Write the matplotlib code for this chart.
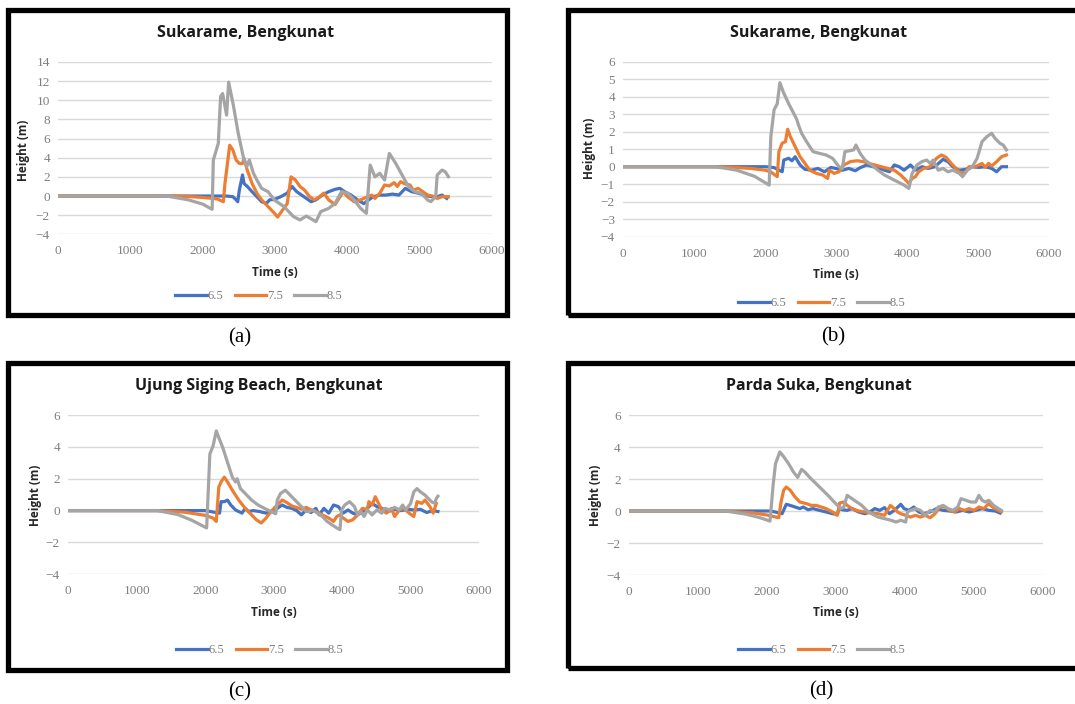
import matplotlib
matplotlib.use("Agg")
import matplotlib.pyplot as plt
from matplotlib.patches import Rectangle
import numpy as np

# series labels (magnitudes) and Excel default colours
labels = ["6.5", "7.5", "8.5"]
colors = ["#4472C4", "#ED7D31", "#A5A5A5"]

titles = ["Sukarame, Bengkunat", "Sukarame, Bengkunat",
          "Ujung Siging Beach, Bengkunat", "Parda Suka, Bengkunat"]
captions = ["(a)", "(b)", "(c)", "(d)"]

# ---- panel (a) ----
ta_65 = [0, 2100, 2329, 2417, 2462, 2484, 2506, 2550, 2572, 2616, 2683, 2749, 2815, 2881, 2926, 2992,
         3080, 3169, 3235, 3301, 3368, 3434, 3500, 3567, 3655, 3743, 3832, 3898, 3964, 4053, 4141,
         4230, 4296, 4362, 4451, 4539, 4627, 4716, 4804, 4892, 4981, 5069, 5158, 5246, 5312, 5378]
ha_65 = [0, 0, 0, -0.07, -0.4, -0.6, 0.6, 2.2, 1.3, 1.0, 0.45, -0.07, -0.6, -0.77, -0.4, -0.35,
         -0.07, 0.3, 1.0, 0.45, 0.1, -0.25, -0.6, -0.4, 0.1, 0.45, 0.7, 0.8, 0.45, 0.1, -0.4,
         -0.8, -0.4, -0.07, 0.1, 0.1, 0.2, 0.1, 0.8, 0.45, 0.3, 0.1, -0.07, -0.07, 0.1, -0.25]
ta_75 = [0, 1500, 1800, 2000, 2200, 2285, 2307, 2373, 2417, 2462, 2506, 2550, 2572, 2616, 2683, 2749,
         2815, 2904, 2992, 3036, 3102, 3169, 3222, 3279, 3346, 3412, 3478, 3544, 3611, 3677, 3743,
         3832, 3898, 3942, 4009, 4097, 4185, 4274, 4340, 4384, 4451, 4517, 4583, 4649, 4694, 4738,
         4804, 4870, 4915, 4981, 5047, 5114, 5180, 5246, 5312, 5400]
ha_75 = [0, 0, -0.05, -0.15, -0.3, -0.6, 1.3, 5.3, 4.8, 3.76, 3.4, 3.4, 3.9, 2.7, 1.3, 0.3,
         -0.4, -1.1, -1.8, -2.2, -1.5, -0.8, 2.0, 1.7, 1.0, 0.6, -0.07, -0.4, -0.1, 0.3, -0.4,
         -0.9, -0.1, 0.45, -0.1, -0.6, -0.4, -0.1, 0.1, -0.25, 0.3, 1.15, 1.05, 1.4, 1.0, 1.5,
         1.25, 1.15, 0.6, 0.8, 0.45, 0.1, 0.0, -0.25, -0.07, -0.07]
ta_85 = [0, 1500, 1800, 2000, 2130, 2146, 2215, 2247, 2275, 2330, 2358, 2423, 2492, 2561, 2608, 2645,
         2700, 2749, 2815, 2904, 2992, 3125, 3257, 3346, 3434, 3567, 3633, 3743, 3832, 3920, 4009,
         4097, 4185, 4265, 4318, 4384, 4451, 4517, 4583, 4672, 4760, 4848, 4937, 5025, 5114, 5158,
         5224, 5246, 5312, 5357, 5400]
ha_85 = [0, 0, -0.4, -0.85, -1.39, 3.76, 5.5, 10.4, 10.7, 8.45, 11.9, 9.5, 6.5, 4.1, 3.06, 3.76,
         2.4, 1.67, 0.8, 0.45, -0.42, -1.11, -2.16, -2.5, -2.09, -2.68, -1.63, -1.29, -0.77, 0.45, 0.28,
         -0.42, -1.29, -1.81, 3.23, 2.0, 2.37, 1.67, 4.45, 3.4, 2.19, 0.97, 0.45, 0.28, -0.42, -0.59,
         -0.07, 2.19, 2.71, 2.54, 2.02]

# ---- panel (b) ----
tb_65 = [0, 2000, 2125, 2239, 2262, 2331, 2377, 2422, 2491, 2560, 2651, 2743, 2835, 2926, 2995, 3087,
         3178, 3270, 3338, 3430, 3522, 3613, 3682, 3751, 3819, 3888, 3957, 4048, 4117, 4209, 4300,
         4392, 4506, 4575, 4644, 4735, 4827, 4919, 5010, 5102, 5193, 5262, 5331, 5400]
hb_65 = [0, 0, -0.05, -0.29, 0.38, 0.48, 0.34, 0.57, 0.1, -0.15, -0.2, -0.1, -0.29, -0.04, -0.1, -0.2,
         -0.1, -0.23, -0.06, 0.1, 0.0, -0.1, -0.2, -0.29, 0.1, 0.0, -0.2, 0.1, -0.2, 0.0, -0.1,
         0.0, 0.42, 0.29, 0.0, -0.2, -0.15, 0.0, -0.04, 0.0, -0.1, -0.29, 0.0, 0.0]
tb_75 = [0, 1400, 1800, 2000, 2079, 2170, 2193, 2239, 2285, 2317, 2354, 2422, 2491, 2560, 2628, 2720,
         2812, 2880, 2903, 2972, 3041, 3109, 3201, 3293, 3384, 3453, 3545, 3636, 3728, 3819, 3911,
         3980, 4025, 4071, 4117, 4163, 4232, 4323, 4415, 4483, 4552, 4621, 4690, 4758, 4827, 4873,
         4964, 5056, 5102, 5148, 5193, 5262, 5331, 5400]
hb_75 = [0, 0, -0.1, -0.2, -0.3, -0.57, 0.86, 1.34, 1.43, 2.14, 1.72, 1.15, 0.57, 0.19, -0.2, -0.38,
         -0.48, -0.67, -0.2, -0.38, -0.29, 0.1, 0.29, 0.34, 0.29, 0.19, 0.1, 0.0, -0.1, -0.2, -0.48,
         -0.76, -0.96, -0.67, -0.57, -0.29, -0.1, 0.0, 0.48, 0.67, 0.53, 0.19, -0.1, -0.38, -0.29, 0.0,
         0.0, 0.19, -0.04, 0.19, 0.04, 0.29, 0.57, 0.67]
tb_85 = [0, 1300, 1600, 1850, 2056, 2079, 2125, 2170, 2207, 2262, 2331, 2400, 2445, 2468, 2514, 2583,
         2674, 2766, 2858, 2949, 3041, 3087, 3123, 3201, 3247, 3279, 3338, 3407, 3499, 3590, 3682,
         3774, 3865, 3957, 4025, 4071, 4140, 4209, 4277, 4323, 4369, 4438, 4506, 4575, 4644, 4735,
         4781, 4850, 4919, 4987, 5056, 5125, 5193, 5239, 5308, 5354, 5400]
hb_85 = [0, 0, -0.2, -0.55, -1.05, 1.7, 3.25, 3.6, 4.8, 4.2, 3.6, 3.06, 2.7, 2.4, 1.9, 1.43,
         0.86, 0.76, 0.67, 0.48, 0.0, -0.1, 0.86, 0.92, 0.96, 1.24, 0.76, 0.38, 0.1, -0.2, -0.48,
         -0.67, -0.86, -1.05, -1.24, -0.38, 0.1, 0.29, 0.38, 0.19, 0.38, -0.2, -0.1, -0.29, -0.2, -0.38,
         -0.57, -0.2, 0.0, 0.48, 1.43, 1.72, 1.91, 1.62, 1.34, 1.24, 0.96]

# ---- panel (c) ----
tc_65 = [0, 2000, 2209, 2232, 2279, 2326, 2373, 2443, 2537, 2584, 2631, 2701, 2795, 2889, 2983, 3053,
         3124, 3194, 3265, 3335, 3405, 3476, 3546, 3617, 3664, 3734, 3805, 3875, 3945, 4016, 4086,
         4156, 4227, 4297, 4368, 4438, 4508, 4579, 4673, 4767, 4860, 4954, 5048, 5142, 5236, 5330, 5400]
hc_65 = [0, 0, -0.16, 0.56, 0.56, 0.66, 0.35, 0.04, -0.16, 0.14, -0.06, 0.0, -0.06, -0.16, -0.06, 0.14,
         0.35, 0.2, 0.14, 0.0, -0.27, 0.04, -0.12, 0.14, -0.27, 0.14, -0.16, 0.35, 0.25, -0.16, 0.04,
         -0.16, -0.27, -0.06, 0.14, 0.45, 0.25, 0.14, -0.06, 0.08, 0.0, 0.08, 0.04, 0.08, -0.12, 0.0, -0.06]
tc_75 = [0, 1300, 1700, 2000, 2115, 2162, 2199, 2232, 2279, 2326, 2396, 2490, 2584, 2678, 2748, 2819,
         2889, 2960, 3053, 3124, 3194, 3265, 3335, 3405, 3476, 3546, 3617, 3711, 3805, 3875, 3922,
         3969, 4016, 4086, 4156, 4227, 4297, 4368, 4391, 4438, 4485, 4532, 4579, 4649, 4720, 4767,
         4837, 4907, 4978, 5048, 5095, 5165, 5212, 5283, 5330, 5376]
hc_75 = [0, 0, -0.1, -0.3, -0.47, -0.68, 1.48, 1.8, 2.1, 1.8, 1.28, 0.66, 0.14, -0.27, -0.58, -0.78,
         -0.47, -0.06, 0.35, 0.66, 0.5, 0.29, 0.2, 0.08, 0.2, 0.04, -0.06, -0.27, -0.47, -0.68, -0.37,
         -0.27, -0.47, -0.68, -0.58, -0.27, 0.14, 0.04, 0.56, 0.35, 0.87, 0.45, 0.04, -0.16, 0.14, -0.37,
         0.04, 0.14, -0.16, -0.37, 0.56, 0.45, 0.66, 0.25, -0.16, 0.45]
tc_85 = [0, 1300, 1600, 1800, 2021, 2068, 2115, 2162, 2209, 2256, 2326, 2396, 2443, 2467, 2514, 2561,
         2608, 2678, 2772, 2866, 2960, 3030, 3053, 3100, 3171, 3241, 3312, 3382, 3429, 3476, 3523,
         3570, 3640, 3711, 3781, 3851, 3922, 3969, 3992, 4039, 4109, 4180, 4227, 4274, 4321, 4368,
         4438, 4508, 4579, 4626, 4696, 4767, 4837, 4884, 4931, 5001, 5048, 5095, 5142, 5212, 5259,
         5306, 5353, 5376, 5400]
hc_85 = [0, 0, -0.25, -0.6, -1.09, 3.55, 4.06, 5.0, 4.47, 3.96, 3.03, 2.1, 1.8, 2.0, 1.38, 1.18,
         0.97, 0.66, 0.35, 0.14, -0.06, -0.2, 0.66, 1.07, 1.28, 0.97, 0.66, 0.35, 0.14, -0.06, -0.06,
         0.04, -0.16, -0.37, -0.68, -0.89, -1.09, -1.2, 0.04, 0.35, 0.56, 0.25, -0.27, -0.06, -0.37, 0.04,
         -0.27, 0.04, -0.16, 0.14, 0.04, 0.2, 0.04, 0.35, 0.04, 0.45, 1.18, 1.38, 1.18, 0.97, 0.76,
         0.56, 0.45, 0.76, 0.9]

# ---- panel (d) ----
td_65 = [0, 2050, 2196, 2220, 2281, 2338, 2408, 2479, 2526, 2597, 2668, 2762, 2857, 2951, 3022, 3046,
         3093, 3164, 3234, 3329, 3423, 3494, 3565, 3636, 3706, 3777, 3848, 3942, 3990, 4060, 4131,
         4202, 4273, 4367, 4462, 4556, 4650, 4745, 4839, 4934, 5028, 5122, 5217, 5311, 5382]
hd_65 = [0, 0, -0.13, -0.17, 0.42, 0.35, 0.25, 0.15, 0.25, 0.08, 0.15, 0.04, -0.06, -0.17, -0.21, 0.15,
         0.08, 0.04, 0.15, -0.06, -0.17, -0.06, 0.15, 0.04, 0.21, -0.17, 0.04, 0.42, 0.15, 0.04, 0.25,
         -0.06, -0.17, -0.06, 0.15, 0.04, 0.0, -0.06, 0.04, -0.06, 0.04, 0.15, 0.04, 0.0, -0.13]
td_75 = [0, 1400, 1800, 2000, 2172, 2205, 2243, 2281, 2338, 2408, 2479, 2574, 2644, 2715, 2786, 2857,
         2951, 3022, 3055, 3116, 3164, 3234, 3329, 3423, 3518, 3612, 3706, 3791, 3848, 3895, 3942,
         4013, 4084, 4155, 4226, 4296, 4367, 4438, 4509, 4580, 4650, 4721, 4792, 4863, 4934, 5004,
         5075, 5146, 5217, 5288, 5358, 5400]
hd_75 = [0, 0, -0.12, -0.25, -0.42, 0.56, 1.3, 1.5, 1.3, 0.88, 0.56, 0.46, 0.35, 0.35, 0.25, 0.15,
         -0.06, -0.27, 0.5, 0.56, 0.35, 0.15, 0.0, -0.06, -0.13, -0.17, -0.27, 0.35, 0.15, -0.06, -0.17,
         -0.27, -0.38, -0.27, -0.38, -0.27, -0.42, -0.17, 0.25, 0.25, 0.04, -0.06, 0.15, 0.04, 0.15, 0.04,
         0.25, 0.15, 0.46, 0.2, 0.04, -0.06]
td_85 = [0, 1400, 1700, 1900, 2045, 2092, 2125, 2187, 2243, 2314, 2385, 2446, 2503, 2550, 2621, 2715,
         2810, 2904, 2998, 3069, 3116, 3164, 3234, 3305, 3376, 3447, 3518, 3612, 3706, 3801, 3872,
         3942, 4013, 4037, 4084, 4155, 4226, 4296, 4367, 4438, 4485, 4556, 4627, 4698, 4768, 4816,
         4886, 4957, 5028, 5075, 5122, 5170, 5217, 5288, 5358, 5400]
hd_85 = [0, 0, -0.2, -0.42, -0.63, 1.7, 2.96, 3.69, 3.4, 2.96, 2.44, 2.1, 2.6, 2.44, 2.1, 1.7,
         1.3, 0.9, 0.46, 0.15, 0.25, 0.98, 0.77, 0.56, 0.35, 0.04, -0.17, -0.38, -0.48, -0.58, -0.69,
         -0.58, -0.69, -0.06, 0.04, 0.15, 0.04, -0.27, 0.04, -0.06, 0.25, 0.35, 0.15, 0.04, 0.25, 0.77,
         0.67, 0.56, 0.56, 0.98, 0.67, 0.56, 0.67, 0.35, 0.15, 0.04]

series = [
    [(ta_65, ha_65), (ta_75, ha_75), (ta_85, ha_85)],
    [(tb_65, hb_65), (tb_75, hb_75), (tb_85, hb_85)],
    [(tc_65, hc_65), (tc_75, hc_75), (tc_85, hc_85)],
    [(td_65, hd_65), (td_75, hd_75), (td_85, hd_85)],
]
yranges = [(-4, 14, 2), (-4, 6, 1), (-4, 6, 2), (-4, 6, 2)]

W, H = 1075, 704
fig = plt.figure(figsize=(W / 100, H / 100), dpi=100)
fig.patch.set_facecolor("white")

def fx(px):
    return px / W

def fy(py):
    return 1 - py / H

# layout in pixels (left, top, right, bottom) for plot areas and frames
plot_boxes = [(58.3, 62, 491.7, 234.3), (623.3, 61.7, 1049, 236.7),
              (68.3, 415, 479, 574.3), (629, 415, 1042.7, 575)]
frames = [(8, 10, 507, 315), (568, 10, 1090, 315), (8, 363, 507, 670), (568, 363, 1090, 668)]
title_pos = [(246, 33), (819, 33), (259, 386), (819, 386)]
xlab_pos = [(275, 272), (836, 274), (274, 612), (836, 612)]
ylab_pos = [(23, 150), (590, 148), (35, 495), (595, 495)]
leg_pos = [(259, 296), (822, 303), (260, 650), (822, 650)]
cap_pos = [(240, 338), (833, 337), (240, 692), (821, 691)]

tick_col = "#7F7F7F"
for i in range(4):
    l, t, r, b = frames[i]
    fig.patches.append(Rectangle((fx(l), fy(b)), fx(r - l), (b - t) / H, transform=fig.transFigure,
                                 fill=False, edgecolor="black", linewidth=3.8, zorder=0))

    l, t, r, b = plot_boxes[i]
    ax = fig.add_axes([fx(l), fy(b), fx(r - l), (b - t) / H])
    for k in range(3):
        tt, hh = series[i][k]
        ax.plot(tt, hh, color=colors[k], lw=2.3, label=labels[k], solid_joinstyle="round", zorder=3)
    lo, hi, step = yranges[i]
    ax.set_xlim(0, 6000)
    ax.set_ylim(lo, hi)
    ax.set_xticks(np.arange(0, 6001, 1000))
    ax.set_yticks(np.arange(lo, hi + 0.1, step))
    ax.grid(axis="y", color="#D9D9D9", lw=1.0, zorder=0)
    for s in ax.spines.values():
        s.set_visible(False)
    ax.tick_params(length=0, labelsize=9.5, labelcolor=tick_col)
    ax.tick_params(axis="x", pad=8)
    ax.tick_params(axis="y", pad=6)
    for lab in ax.get_xticklabels() + ax.get_yticklabels():
        lab.set_family("Liberation Serif")

    fig.text(fx(title_pos[i][0]), fy(title_pos[i][1]), titles[i], ha="center", va="center",
             fontsize=11.5, fontweight="bold", family="Open Sans", color="#1A1A1A")
    fig.text(fx(xlab_pos[i][0]), fy(xlab_pos[i][1]), "Time (s)", ha="center", va="center",
             fontsize=8.5, fontweight="bold", family="Open Sans", color="#262626")
    fig.text(fx(ylab_pos[i][0]), fy(ylab_pos[i][1]), "Height (m)", ha="center", va="center",
             rotation=90, fontsize=8.5, fontweight="bold", family="Open Sans", color="#262626")
    fig.text(fx(cap_pos[i][0]), fy(cap_pos[i][1]), captions[i], ha="center", va="center",
             fontsize=15, family="Liberation Serif", color="black")

    h_, l_ = ax.get_legend_handles_labels()
    leg = fig.legend(h_, l_, loc="center", bbox_to_anchor=(fx(leg_pos[i][0]), fy(leg_pos[i][1])),
                     ncol=3, frameon=False, handlelength=2.5, handletextpad=0.1, columnspacing=0.9,
                     prop={"family": "Liberation Serif", "size": 9})
    for txt in leg.get_texts():
        txt.set_color(tick_col)

fig.savefig("out.png", dpi=100)
